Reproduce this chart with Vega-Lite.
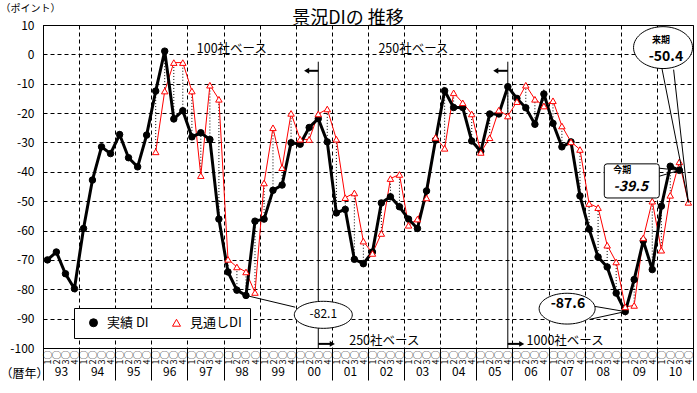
{
  "$schema": "https://vega.github.io/schema/vega-lite/v6.json",
  "width": 650,
  "height": 323,
  "autosize": "none",
  "padding": {"left": 43, "top": 25, "right": 4, "bottom": 45},
  "background": "white",
  "config": {
    "font": "Noto Sans CJK JP",
    "view": {"stroke": "black", "strokeWidth": 1},
    "axis": {"labelColor": "black", "titleColor": "black", "domainColor": "black", "tickColor": "black"},
    "axisY": {
      "tickCount": 12, "labelExpr": "'' + datum.value",
      "labelOverlap": false, "labelFlush": false, "labelBound": false,
      "grid": true, "gridDash": [4, 3], "gridColor": "black", "gridOpacity": 1,
      "ticks": false, "labelPadding": 9, "labelFontSize": 12,
      "titleAngle": 0, "titleX": -43, "titleY": -17,
      "titleAlign": "left", "titleBaseline": "middle", "titleFontSize": 10, "titleFontWeight": "normal"
    },
    "text": {"color": "black"}
  },
  "title": {"text": "景況DIの 推移", "frame": "group", "fontSize": 18, "fontWeight": "normal", "color": "black", "anchor": "middle", "baseline": "bottom", "dx": -20, "offset": -43},
  "datasets": {
    "di": [
      {"d": "1993-02-15", "actual": -70},
      {"d": "1993-05-16", "actual": -67.3},
      {"d": "1993-08-16", "actual": -74.7},
      {"d": "1993-11-15", "actual": -79.8},
      {"d": "1994-02-15", "actual": -59.3},
      {"d": "1994-05-16", "actual": -42.8},
      {"d": "1994-08-16", "actual": -31.5},
      {"d": "1994-11-15", "actual": -33.8},
      {"d": "1995-02-15", "actual": -27.3},
      {"d": "1995-05-16", "actual": -35.2},
      {"d": "1995-08-16", "actual": -38.3},
      {"d": "1995-11-15", "actual": -27.5},
      {"d": "1996-02-15", "actual": -12.5, "forecast": -33.2},
      {"d": "1996-05-16", "actual": 1.1, "forecast": -12.5},
      {"d": "1996-08-16", "actual": -22, "forecast": -2.8},
      {"d": "1996-11-15", "actual": -19.2, "forecast": -2.8},
      {"d": "1997-02-15", "actual": -28.1, "forecast": -12.5},
      {"d": "1997-05-16", "actual": -26.7, "forecast": -41.3},
      {"d": "1997-08-16", "actual": -29, "forecast": -10.5},
      {"d": "1997-11-15", "actual": -56.1, "forecast": -15.3},
      {"d": "1998-02-15", "actual": -74.1, "forecast": -69.8},
      {"d": "1998-05-16", "actual": -80.3, "forecast": -72.4},
      {"d": "1998-08-16", "actual": -82.1, "forecast": -74.1},
      {"d": "1998-11-15", "actual": -56.8, "forecast": -81.1},
      {"d": "1999-02-15", "actual": -56.1, "forecast": -43.8},
      {"d": "1999-05-16", "actual": -46.3, "forecast": -25},
      {"d": "1999-08-16", "actual": -44.5, "forecast": -38.6},
      {"d": "1999-11-15", "actual": -30.1, "forecast": -20.1},
      {"d": "2000-02-15", "actual": -30.6, "forecast": -28.9},
      {"d": "2000-05-16", "actual": -24.9, "forecast": -29},
      {"d": "2000-08-16", "actual": -21.9, "forecast": -20.3},
      {"d": "2000-11-15", "actual": -29.8, "forecast": -18.6},
      {"d": "2001-02-15", "actual": -54, "forecast": -28.9},
      {"d": "2001-05-16", "actual": -52.8, "forecast": -48.8},
      {"d": "2001-08-16", "actual": -69.8, "forecast": -47.2},
      {"d": "2001-11-15", "actual": -71.3, "forecast": -63.6},
      {"d": "2002-02-15", "actual": -67.3, "forecast": -67.8},
      {"d": "2002-05-16", "actual": -50.6, "forecast": -61},
      {"d": "2002-08-16", "actual": -48.5, "forecast": -42.3},
      {"d": "2002-11-15", "actual": -51.9, "forecast": -40.9},
      {"d": "2003-02-15", "actual": -56.1, "forecast": -58.2},
      {"d": "2003-05-16", "actual": -59.3, "forecast": -56.1},
      {"d": "2003-08-16", "actual": -46.5, "forecast": -48.9},
      {"d": "2003-11-15", "actual": -29.2, "forecast": -28.3},
      {"d": "2004-02-15", "actual": -12.4, "forecast": -32},
      {"d": "2004-05-16", "actual": -18.1, "forecast": -13.1},
      {"d": "2004-08-16", "actual": -18.1, "forecast": -16.5},
      {"d": "2004-11-15", "actual": -29.5, "forecast": -20.3},
      {"d": "2005-02-15", "actual": -33, "forecast": -33.4},
      {"d": "2005-05-16", "actual": -20.3, "forecast": -28.4},
      {"d": "2005-08-16", "actual": -20.3, "forecast": -19},
      {"d": "2005-11-15", "actual": -11, "forecast": -21},
      {"d": "2006-02-15", "actual": -15, "forecast": -16.1},
      {"d": "2006-05-16", "actual": -18.2, "forecast": -10.5},
      {"d": "2006-08-16", "actual": -23.8, "forecast": -15.3},
      {"d": "2006-11-15", "actual": -13.5, "forecast": -17.6},
      {"d": "2007-02-15", "actual": -23.5, "forecast": -15.8},
      {"d": "2007-05-16", "actual": -31.5, "forecast": -24.4},
      {"d": "2007-08-16", "actual": -29.8, "forecast": -29.8},
      {"d": "2007-11-15", "actual": -48.2, "forecast": -32.4},
      {"d": "2008-02-15", "actual": -59.5, "forecast": -50.8},
      {"d": "2008-05-16", "actual": -69, "forecast": -52.2},
      {"d": "2008-08-16", "actual": -72.4, "forecast": -65},
      {"d": "2008-11-15", "actual": -81.3, "forecast": -70.7},
      {"d": "2009-02-15", "actual": -87.6, "forecast": -86},
      {"d": "2009-05-16", "actual": -76.7, "forecast": -85.5},
      {"d": "2009-08-16", "actual": -63.5, "forecast": -62.5},
      {"d": "2009-11-15", "actual": -73.3, "forecast": -50},
      {"d": "2010-02-15", "actual": -51.7, "forecast": -66.7},
      {"d": "2010-05-16", "actual": -38.1, "forecast": -48},
      {"d": "2010-08-16", "actual": -39.5, "forecast": -36.6},
      {"d": "2010-11-15", "forecast": -50.4}
    ]
  },
  "layer": [
    {
      "data": {"name": "di"},
      "transform": [{"filter": "isValid(datum.forecast) && isValid(datum.actual)"}],
      "mark": {"type": "rule", "strokeDash": [1, 2], "color": "black", "strokeWidth": 1},
      "encoding": {
        "x": {
          "field": "d", "type": "temporal",
          "scale": {"domain": [{"year": 1993, "month": 1, "date": 1}, {"year": 2011, "month": 1, "date": 1}]},
          "axis": {
            "orient": "bottom",
            "tickCount": {"interval": "year", "step": 1},
            "grid": true, "gridDash": [4, 3], "gridColor": "black", "gridOpacity": 1, "gridWidth": 1,
            "ticks": true, "tickSize": 32, "tickWidth": 1,
            "labelExpr": "year(datum.value) < 2011 ? timeFormat(datum.value, '%y') : ''",
            "labelOffset": 18, "labelPadding": -14, "labelFontSize": 12,
            "labelFlush": false, "labelOverlap": false, "labelBound": false,
            "title": "（暦年）", "titleX": -43, "titleY": 25, "titleAlign": "left", "titleBaseline": "middle",
            "titleFontSize": 12, "titleFontWeight": "normal"
          }
        },
        "y": {
          "field": "actual", "type": "quantitative",
          "scale": {"domain": [-100, 10], "nice": false, "zero": false},
          "axis": {"title": "（ポイント）", "values": [-100, -90, -80, -70, -60, -50, -40, -30, -20, -10, 0, 10]}
        },
        "y2": {"field": "forecast"}
      }
    },
    {
      "mark": {"type": "rule", "color": "black", "strokeWidth": 1},
      "encoding": {"y": {"datum": 0, "type": "quantitative"}}
    },
    {
      "data": {"values": [
        {"d": "2000-08-16", "top": -2.5, "bottom": -100},
        {"d": "2005-11-15", "top": -2.5, "bottom": -100}
      ]},
      "mark": {"type": "rule", "color": "black", "strokeWidth": 1},
      "encoding": {
        "x": {"field": "d", "type": "temporal", "axis": null},
        "y": {"field": "top", "type": "quantitative"},
        "y2": {"field": "bottom"}
      }
    },
    {
      "data": {"name": "di"},
      "mark": {"type": "line", "color": "red", "strokeWidth": 1},
      "encoding": {
        "x": {
          "field": "d", "type": "temporal",
          "axis": {
            "orient": "bottom",
            "tickCount": {"interval": "month", "step": 3},
            "labelExpr": "year(datum.value) < 2011 ? (floor(month(datum.value) / 3) + 1) + '○' : ''",
            "labelAngle": -90, "labelOffset": 4.5, "labelPadding": 2, "labelFontSize": 9, "labelColor": "black",
            "labelFlush": false, "labelOverlap": false, "labelBound": false,
            "grid": false, "ticks": false, "domain": false, "title": null
          }
        },
        "y": {"field": "forecast", "type": "quantitative"}
      }
    },
    {
      "data": {"name": "di"},
      "mark": {"type": "line", "color": "black", "strokeWidth": 3},
      "encoding": {
        "x": {"field": "d", "type": "temporal", "axis": null},
        "y": {"field": "actual", "type": "quantitative"}
      }
    },
    {
      "data": {"name": "di"},
      "transform": [{"fold": ["actual", "forecast"], "as": ["series", "value"]}],
      "mark": {"type": "point", "opacity": 1, "strokeWidth": 1, "size": 42},
      "encoding": {
        "x": {"field": "d", "type": "temporal", "axis": null},
        "y": {"field": "value", "type": "quantitative"},
        "shape": {"field": "series", "type": "nominal", "scale": {"domain": ["actual", "forecast"], "range": ["circle", "triangle-up"]}},
        "fill": {"field": "series", "type": "nominal", "scale": {"domain": ["actual", "forecast"], "range": ["black", "white"]}},
        "stroke": {
          "field": "series", "type": "nominal",
          "scale": {"domain": ["actual", "forecast"], "range": ["black", "red"]},
          "legend": {
            "title": null, "orient": "none", "legendX": 31, "legendY": 283,
            "direction": "horizontal", "padding": 8,
            "strokeColor": "black", "fillColor": "white",
            "symbolSize": 64, "symbolStrokeWidth": 1, "symbolOffset": 5,
            "labelFontSize": 13, "labelColor": "black", "labelOffset": 7, "columnPadding": 16,
            "labelExpr": "datum.value === 'actual' ? '実績 DI' : '見通しDI'"
          }
        }
      }
    },
    {
      "data": {"values": [
        {"d": "1998-03-26", "v": 1.8, "t": "100社ベース"},
        {"d": "2003-04-06", "v": 1.8, "t": "250社ベース"},
        {"d": "2002-06-15", "v": -97.7, "t": "250社ベース"},
        {"d": "2007-06-18", "v": -97.7, "t": "1000社ベース"}
      ]},
      "mark": {"type": "text", "fontSize": 12.5, "align": "center", "baseline": "middle", "color": "black"},
      "encoding": {
        "x": {"field": "d", "type": "temporal", "axis": null},
        "y": {"field": "v", "type": "quantitative"},
        "text": {"field": "t"}
      }
    },
    {
      "data": {"values": [
        {"d": "2000-08-16", "d2": "2000-04-20", "v": -5.6},
        {"d": "2005-11-15", "d2": "2005-07-16", "v": -5.6},
        {"d": "2000-08-16", "d2": "2001-01-05", "v": -98.6},
        {"d": "2005-11-15", "d2": "2006-04-05", "v": -98.6}
      ]},
      "mark": {"type": "rule", "color": "black", "strokeWidth": 2},
      "encoding": {
        "x": {"field": "d", "type": "temporal", "axis": null},
        "x2": {"field": "d2"},
        "y": {"field": "v", "type": "quantitative"}
      }
    },
    {
      "data": {"values": [
        {"d": "2000-04-20", "v": -5.6},
        {"d": "2005-07-16", "v": -5.6}
      ]},
      "mark": {"type": "point", "shape": "triangle-left", "filled": true, "color": "black", "opacity": 1, "size": 35},
      "encoding": {
        "x": {"field": "d", "type": "temporal", "axis": null},
        "y": {"field": "v", "type": "quantitative"}
      }
    },
    {
      "data": {"values": [
        {"d": "2001-01-05", "v": -98.6},
        {"d": "2006-04-05", "v": -98.6}
      ]},
      "mark": {"type": "point", "shape": "triangle-right", "filled": true, "color": "black", "opacity": 1, "size": 35},
      "encoding": {
        "x": {"field": "d", "type": "temporal", "axis": null},
        "y": {"field": "v", "type": "quantitative"}
      }
    },
    {
      "data": {"values": [
        {"d": "1998-08-16", "v": -82.1, "d2": "1999-12-27", "v2": -86.1},
        {"d": "2009-02-15", "v": -87.6, "d2": "2008-04-07", "v2": -85.8},
        {"d": "2009-02-15", "v": -87.6, "d2": "2008-02-26", "v2": -90.2},
        {"d": "2010-08-16", "v": -39.5, "d2": "2010-01-05", "v2": -38.7},
        {"d": "2010-08-16", "v": -39.5, "d2": "2010-01-05", "v2": -41.7},
        {"d": "2010-11-15", "v": -50.4, "d2": "2010-02-22", "v2": -5.0},
        {"d": "2010-11-15", "v": -50.4, "d2": "2010-06-19", "v2": -5.2}
      ]},
      "mark": {"type": "rule", "color": "black", "strokeWidth": 1},
      "encoding": {
        "x": {"field": "d", "type": "temporal", "axis": null},
        "x2": {"field": "d2"},
        "y": {"field": "v", "type": "quantitative"},
        "y2": {"field": "v2"}
      }
    },
    {
      "data": {"values": [{"d": "2000-10-06", "v": -88.7}]},
      "mark": {"type": "point", "filled": true, "fill": "white", "stroke": "black", "strokeWidth": 1, "opacity": 1, "size": 3364,
        "shape": "M-1,0A1,0.466,0,1,0,1,0A1,0.466,0,1,0,-1,0Z"},
      "encoding": {
        "x": {"field": "d", "type": "temporal", "axis": null},
        "y": {"field": "v", "type": "quantitative"}
      }
    },
    {
      "data": {"values": [{"d": "2007-07-08", "v": -86.6}]},
      "mark": {"type": "point", "filled": true, "fill": "white", "stroke": "black", "strokeWidth": 1, "opacity": 1, "size": 3136,
        "shape": "M-1,0A1,0.55,0,1,0,1,0A1,0.55,0,1,0,-1,0Z"},
      "encoding": {
        "x": {"field": "d", "type": "temporal", "axis": null},
        "y": {"field": "v", "type": "quantitative"}
      }
    },
    {
      "data": {"values": [{"d": "2009-04-22", "v": -43.1}]},
      "mark": {"type": "point", "filled": true, "fill": "white", "stroke": "black", "strokeWidth": 1, "opacity": 1, "size": 3025,
        "shape": "M-0.9,-0.62L0.9,-0.62Q1,-0.62,1,-0.52L1,0.52Q1,0.62,0.9,0.62L-0.9,0.62Q-1,0.62,-1,0.52L-1,-0.52Q-1,-0.62,-0.9,-0.62Z"},
      "encoding": {
        "x": {"field": "d", "type": "temporal", "axis": null},
        "y": {"field": "v", "type": "quantitative"}
      }
    },
    {
      "data": {"values": [{"d": "2010-03-04", "v": 2.3}]},
      "mark": {"type": "point", "filled": true, "fill": "white", "stroke": "black", "strokeWidth": 1, "opacity": 1, "size": 3481,
        "shape": "M-1,0A1,0.71,0,1,0,1,0A1,0.71,0,1,0,-1,0Z"},
      "encoding": {
        "x": {"field": "d", "type": "temporal", "axis": null},
        "y": {"field": "v", "type": "quantitative"}
      }
    },
    {
      "data": {"values": [{"d": "2000-10-06", "v": -88.4, "t": "-82.1"}]},
      "mark": {"type": "text", "fontSize": 12, "align": "center", "baseline": "middle", "color": "black"},
      "encoding": {
        "x": {"field": "d", "type": "temporal", "axis": null},
        "y": {"field": "v", "type": "quantitative"},
        "text": {"field": "t"}
      }
    },
    {
      "data": {"values": [
        {"d": "2007-07-16", "v": -85.0, "t": "-87.6"},
        {"d": "2010-04-02", "v": -0.8, "t": "-50.4"}
      ]},
      "mark": {"type": "text", "fontSize": 14, "fontWeight": "bold", "align": "center", "baseline": "middle", "color": "black"},
      "encoding": {
        "x": {"field": "d", "type": "temporal", "axis": null},
        "y": {"field": "v", "type": "quantitative"},
        "text": {"field": "t"}
      }
    },
    {
      "data": {"values": [{"d": "2009-04-12", "v": -45.0, "t": "-39.5"}]},
      "mark": {"type": "text", "fontSize": 14, "fontWeight": "bold", "fontStyle": "italic", "align": "center", "baseline": "middle", "color": "black"},
      "encoding": {
        "x": {"field": "d", "type": "temporal", "axis": null},
        "y": {"field": "v", "type": "quantitative"},
        "text": {"field": "t"}
      }
    },
    {
      "data": {"values": [
        {"d": "2009-01-16", "v": -39.3, "t": "今期"},
        {"d": "2010-02-12", "v": 5.0, "t": "来期"}
      ]},
      "mark": {"type": "text", "fontSize": 9, "fontWeight": "bold", "align": "center", "baseline": "middle", "color": "black"},
      "encoding": {
        "x": {"field": "d", "type": "temporal", "axis": null},
        "y": {"field": "v", "type": "quantitative"},
        "text": {"field": "t"}
      }
    }
  ],
  "resolve": {"axis": {"x": "independent"}}
}
